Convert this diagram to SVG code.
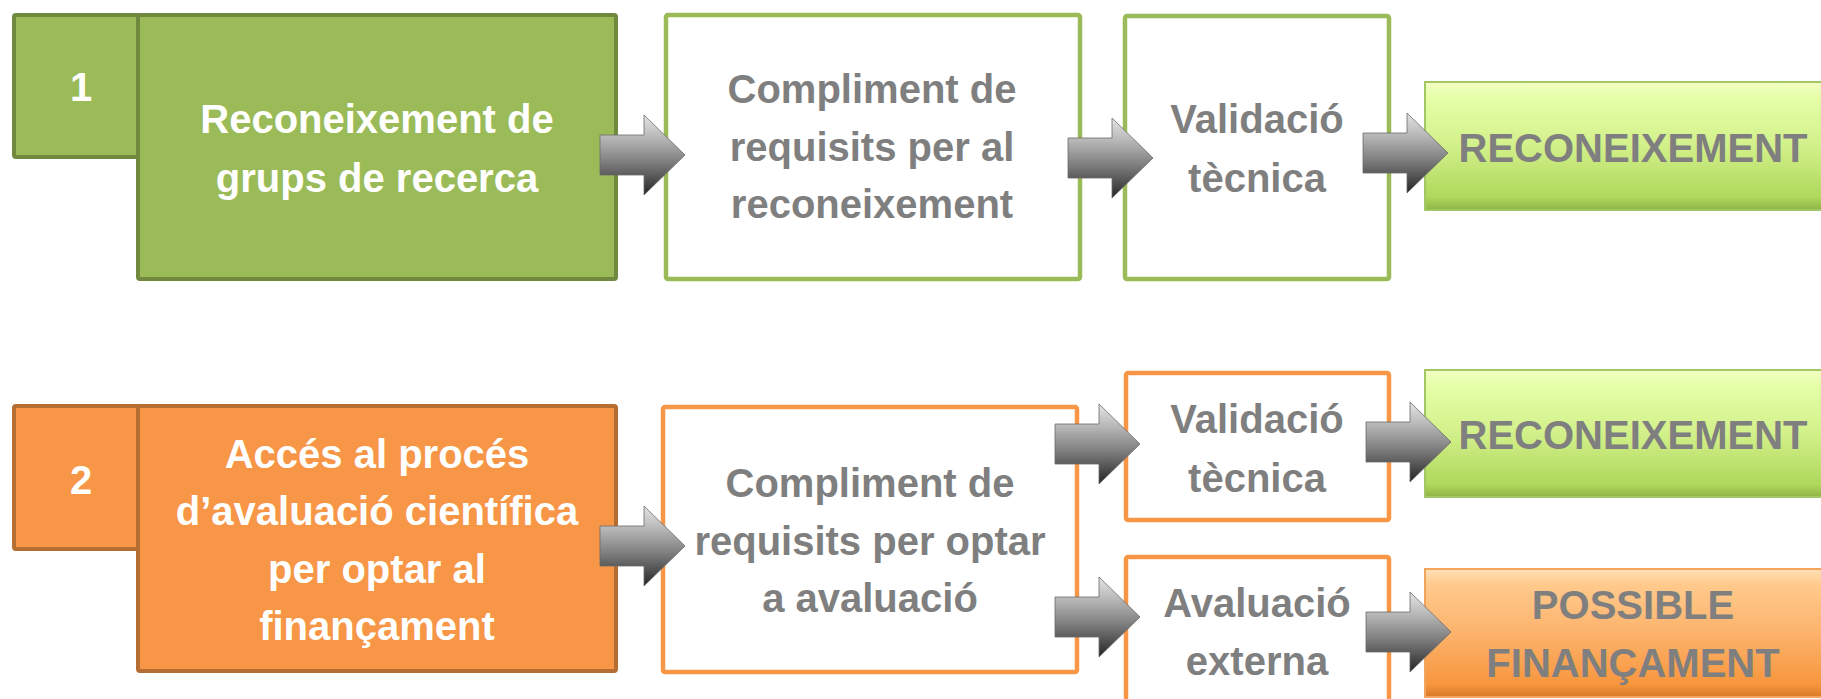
<svg xmlns="http://www.w3.org/2000/svg" width="1821" height="699" viewBox="0 0 1821 699">
<defs>
<linearGradient id="arrowG" x1="0" y1="0" x2="0" y2="1">
<stop offset="0" stop-color="#e4e4e4"/>
<stop offset="0.3" stop-color="#b4b4b4"/>
<stop offset="0.6" stop-color="#7c7c7c"/>
<stop offset="1" stop-color="#262626"/>
</linearGradient>
<linearGradient id="greenRes" x1="0" y1="0" x2="0" y2="1">
<stop offset="0" stop-color="#f3ffc4"/>
<stop offset="0.12" stop-color="#e6ffa8"/>
<stop offset="0.5" stop-color="#d2f08a"/>
<stop offset="0.9" stop-color="#afd85c"/>
<stop offset="1" stop-color="#8fb347"/>
</linearGradient>
<linearGradient id="orangeRes" x1="0" y1="0" x2="0" y2="1">
<stop offset="0" stop-color="#ffe0b8"/>
<stop offset="0.12" stop-color="#ffca8c"/>
<stop offset="0.5" stop-color="#fcb36c"/>
<stop offset="0.9" stop-color="#f7963e"/>
<stop offset="1" stop-color="#d97a28"/>
</linearGradient>
<path id="arr" d="M0,-20 H44 V-40 L85,0 L44,40 V20 H0 Z"/>
</defs>
<style>
.gfill{fill:#9bbb59;stroke:#71893f;stroke-width:4}
.ofill{fill:#f79646;stroke:#b66d31;stroke-width:4}
.gout{fill:#ffffff;stroke:#9bbb59;stroke-width:4.5}
.oout{fill:#ffffff;stroke:#f79646;stroke-width:4.5}
.gres{fill:url(#greenRes);stroke:#a3c764;stroke-width:2}
.ores{fill:url(#orangeRes);stroke:#f2a45c;stroke-width:2}
text{font-family:"Liberation Sans",Arial,sans-serif;font-weight:bold;font-size:40px;text-anchor:middle}
.w{fill:#ffffff}
.g{fill:#7f7f7f}
.arrow{fill:url(#arrowG);stroke:#6a6a6a;stroke-width:0.8}
</style>
<rect width="1821" height="699" fill="#ffffff"/>

<g id="node-1-num">
<rect class="gfill" x="14" y="15" width="125" height="142" rx="2"/>
<text class="w" x="81" y="101">1</text>
</g>
<g id="node-1-main">
<rect class="gfill" x="138" y="15" width="478" height="264" rx="2"/>
<text class="w" x="377" y="133">Reconeixement de</text>
<text class="w" x="377" y="192">grups de recerca</text>
</g>
<g id="node-1-req">
<rect class="gout" x="666" y="15" width="414" height="264" rx="2"/>
<text class="g" x="872" y="103">Compliment de</text>
<text class="g" x="872" y="161">requisits per al</text>
<text class="g" x="872" y="218">reconeixement</text>
</g>
<g id="node-1-val">
<rect class="gout" x="1125" y="16" width="264" height="263" rx="2"/>
<text class="g" x="1257" y="133">Validació</text>
<text class="g" x="1257" y="192">tècnica</text>
</g>
<g id="node-1-res">
<rect class="gres" x="1425" y="82" width="420" height="128"/>
<text class="g" x="1633" y="162">RECONEIXEMENT</text>
</g>

<g id="node-2-num">
<rect class="ofill" x="14" y="406" width="125" height="143" rx="2"/>
<text class="w" x="81" y="494">2</text>
</g>
<g id="node-2-main">
<rect class="ofill" x="138" y="406" width="478" height="265" rx="2"/>
<text class="w" x="377" y="468">Accés al procés</text>
<text class="w" x="377" y="525">d’avaluació científica</text>
<text class="w" x="377" y="583">per optar al</text>
<text class="w" x="377" y="640">finançament</text>
</g>
<g id="node-2-req">
<rect class="oout" x="663" y="407" width="414" height="265" rx="2"/>
<text class="g" x="870" y="497">Compliment de</text>
<text class="g" x="870" y="555">requisits per optar</text>
<text class="g" x="870" y="612">a avaluació</text>
</g>
<g id="node-2-val">
<rect class="oout" x="1126" y="373" width="263" height="147" rx="2"/>
<text class="g" x="1257" y="433">Validació</text>
<text class="g" x="1257" y="492">tècnica</text>
</g>
<g id="node-2-ext">
<rect class="oout" x="1126" y="557" width="263" height="160" rx="2"/>
<text class="g" x="1257" y="617">Avaluació</text>
<text class="g" x="1257" y="675">externa</text>
</g>
<g id="node-2-res1">
<rect class="gres" x="1425" y="370" width="420" height="127"/>
<text class="g" x="1633" y="449">RECONEIXEMENT</text>
</g>
<g id="node-2-res2">
<rect class="ores" x="1425" y="569" width="420" height="128"/>
<text class="g" x="1633" y="619">POSSIBLE</text>
<text class="g" x="1633" y="677">FINANÇAMENT</text>
</g>

<g id="connectors">
<use href="#arr" class="arrow" transform="translate(600,155)"/>
<use href="#arr" class="arrow" transform="translate(1068,158)"/>
<use href="#arr" class="arrow" transform="translate(1363,153)"/>
<use href="#arr" class="arrow" transform="translate(600,546)"/>
<use href="#arr" class="arrow" transform="translate(1055,444)"/>
<use href="#arr" class="arrow" transform="translate(1055,617)"/>
<use href="#arr" class="arrow" transform="translate(1366,442)"/>
<use href="#arr" class="arrow" transform="translate(1366,632)"/>
</g>
</svg>
